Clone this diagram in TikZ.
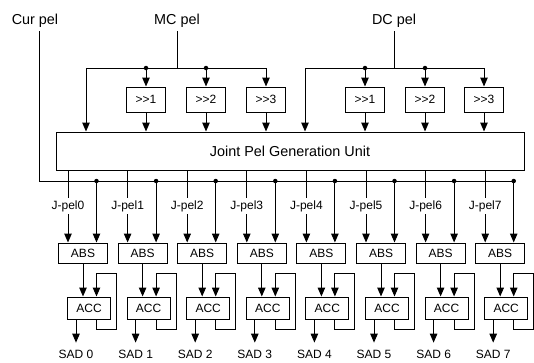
\documentclass[tikz,border=0pt]{standalone}
\usepackage{fontspec}
\setmainfont{Liberation Sans}
\usetikzlibrary{arrows.meta,positioning}

\begin{document}
\begin{tikzpicture}[x=1pt,y=-1pt,line width=1pt,
  box/.style={draw, inner sep=0pt, font=\fontsize{12}{14}\selectfont},
  arr/.style={-{Triangle[length=9pt,width=7.5pt]}},
  lbl/.style={font=\fontsize{12}{14}\selectfont, inner sep=2pt},
  inlbl/.style={font=\fontsize{14.4}{16}\selectfont, inner sep=4pt, anchor=base},
  dot/.style={circle, fill, inner sep=0pt, minimum size=4.5pt}]
\useasboundingbox (0,0) rectangle (534,362);

% inputs
\node[inlbl] (cur) at (35,24) {Cur pel};
\node[inlbl] (mc) at (177,24) {MC pel};
\node[inlbl] (dc) at (394,24) {DC pel};

% shifters
\node[box, minimum width=39pt, minimum height=25pt] (mcs1) at (146,99.5) {>\kern0pt>1};
\node[box, minimum width=39pt, minimum height=25pt] (mcs2) at (206,99.5) {>\kern0pt>2};
\node[box, minimum width=39pt, minimum height=25pt] (mcs3) at (266,99.5) {>\kern0pt>3};
\node[box, minimum width=39pt, minimum height=25pt] (dcs1) at (365,99.5) {>\kern0pt>1};
\node[box, minimum width=39pt, minimum height=25pt] (dcs2) at (425,99.5) {>\kern0pt>2};
\node[box, minimum width=39pt, minimum height=25pt] (dcs3) at (484,99.5) {>\kern0pt>3};

\node[box, minimum width=468pt, minimum height=38pt, font=\fontsize{14.4}{16}\selectfont] (unit) at (290,151) {Joint Pel Generation Unit};

% MC pel fan-out
\coordinate (mcj) at (177,68);
\coordinate (mcl) at (86,68);
\coordinate (mc1) at (146,68);
\coordinate (mc2) at (206,68);
\coordinate (mc3) at (266,68);
\draw (mc.south) -- (mcj);
\draw[arr] (mcj) -- (mcl) -- (mcl |- unit.north);
\draw[arr] (mcj) -- (mc3) -- (mcs3.north);
\draw[arr] (mc1) -- (mcs1.north);
\draw[arr] (mc2) -- (mcs2.north);
\node[dot] at (mc1) {};
\node[dot] at (mc2) {};

% DC pel fan-out
\coordinate (dcj) at (394,68);
\coordinate (dcl) at (305,68);
\coordinate (dc1) at (365,68);
\coordinate (dc2) at (425,68);
\coordinate (dc3) at (484,68);
\draw (dc.south) -- (dcj);
\draw[arr] (dcj) -- (dcl) -- (dcl |- unit.north);
\draw[arr] (dcj) -- (dc3) -- (dcs3.north);
\draw[arr] (dc1) -- (dcs1.north);
\draw[arr] (dc2) -- (dcs2.north);
\node[dot] at (dc1) {};
\node[dot] at (dc2) {};

\foreach \s in {mcs1,mcs2,mcs3,dcs1,dcs2,dcs3}
  \draw[arr] (\s.south) -- (\s |- unit.north);

% Cur pel bus
\coordinate (busend) at (513.5,181);
\draw ([xshift=4pt]cur.south) |- (busend);

% SAD columns
\foreach \i in {0,...,7} {
  \pgfmathsetmacro\cx{83+59.6*\i}
  \node[box, minimum width=49pt, minimum height=20pt] (abs\i) at (\cx,253) {ABS};
  \node[box, minimum width=43pt, minimum height=22pt] (acc\i) at (\cx+6,308) {ACC};
  \node[lbl] (jp\i) at (\cx-15,206) {J-pel\i};
  \node[lbl, anchor=base, inner sep=1pt] (sad\i) at (\cx-7,358.5) {SAD \i};
  \coordinate (tap\i) at (\cx+13.5,181);
  \draw (jp\i |- unit.south) -- (jp\i.north);
  \draw[arr] (jp\i.south) -- (jp\i.south |- abs\i.north);
  \draw[arr] (tap\i) -- (tap\i |- abs\i.north);
  \node[dot] at (tap\i) {};
  \draw[arr] (abs\i.south) -- (abs\i.south |- acc\i.north);
  \draw[arr] (acc\i.south -| tap\i) -- ++(0,10) -| ++(20,-56) -| (acc\i.north -| tap\i);
  \draw[arr] (acc\i.south -| sad\i) -- ([yshift=6pt]sad\i.north);
}
\end{tikzpicture}
\end{document}
